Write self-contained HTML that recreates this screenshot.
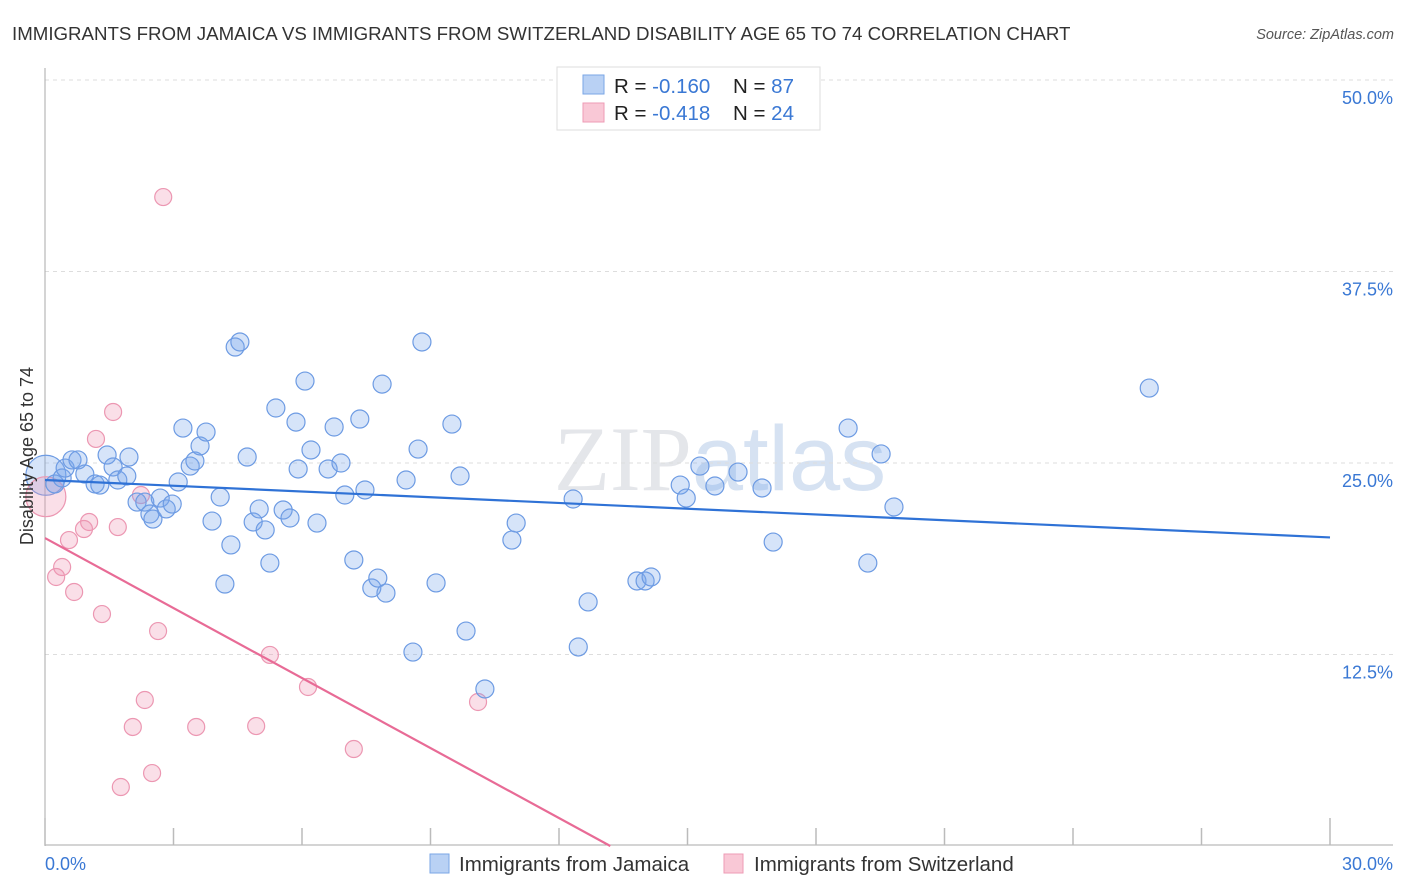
<!DOCTYPE html>
<html><head><meta charset="utf-8"><style>
body{margin:0;background:#fff;font-family:"Liberation Sans",sans-serif;}
svg{display:block}
</style></head><body>
<svg id="chart" width="1406" height="892" xmlns="http://www.w3.org/2000/svg">
<text x="12" y="40" font-size="18.7" fill="#333">IMMIGRANTS FROM JAMAICA VS IMMIGRANTS FROM SWITZERLAND DISABILITY AGE 65 TO 74 CORRELATION CHART</text>
<text x="1394" y="39" font-size="14.5" fill="#555" font-style="italic" text-anchor="end">Source: ZipAtlas.com</text>
<text x="720" y="490" font-size="92" fill="#e4e6ea" text-anchor="middle" font-family="Liberation Serif,serif">ZIP<tspan font-family="Liberation Sans,sans-serif" fill="#d6e2f2">atlas</tspan></text>
<g id="grid"></g>
<g id="axes"></g>
<g id="pts"></g>
<g id="lines"></g>
<text transform="translate(33,456) rotate(-90)" font-size="18" fill="#333" text-anchor="middle">Disability Age 65 to 74</text>
<g>
<rect x="557" y="67" width="263" height="63" fill="#fff" stroke="#ddd"/>
<rect x="583" y="75" width="21" height="19" fill="#b9d1f4" stroke="#7aa6e6"/>
<rect x="583" y="103" width="21" height="19" fill="#f9c8d6" stroke="#ee9bb5"/>
<text x="614" y="93" font-size="20.5" fill="#222">R = <tspan fill="#3a78d4">-0.160</tspan><tspan x="733">N = </tspan><tspan fill="#3a78d4">87</tspan></text>
<text x="614" y="120" font-size="20.5" fill="#222">R = <tspan fill="#3a78d4">-0.418</tspan><tspan x="733">N = </tspan><tspan fill="#3a78d4">24</tspan></text>
</g>
<g>
<rect x="430" y="854" width="19" height="19" fill="#b9d1f4" stroke="#7aa6e6"/>
<text x="459" y="871" font-size="20.5" fill="#333">Immigrants from Jamaica</text>
<rect x="724" y="854" width="19" height="19" fill="#f9c8d6" stroke="#ee9bb5"/>
<text x="754" y="871" font-size="20.5" fill="#333">Immigrants from Switzerland</text>
</g>
</svg>
<script>
const yTicks=[12.5,25,37.5,50];
const yTickLabels=["12.5%","25.0%","37.5%","50.0%"];
const xTicks=[0,3,6,9,12,15,18,21,24,27,30];
const xEndLabels=["0.0%","30.0%"];
const jamX=[0.23,0.40,0.47,0.63,0.77,0.93,1.17,1.28,1.45,1.59,1.70,1.91,1.96,2.15,2.33,2.45,2.52,2.69,2.83,2.97,3.11,3.22,3.39,3.50,3.62,3.76,3.90,4.09,4.20,4.34,4.44,4.55,4.72,4.86,5.00,5.14,5.25,5.39,5.56,5.72,5.86,5.91,6.07,6.21,6.35,6.61,6.75,6.91,7.00,7.21,7.35,7.47,7.63,7.77,7.87,7.96,8.43,8.59,8.71,8.80,9.13,9.50,9.69,9.83,10.27,10.90,11.00,12.33,12.45,12.68,13.82,14.01,14.15,14.83,14.97,15.29,15.64,16.18,16.74,17.00,18.75,19.21,19.52,19.82,25.78];
const jamY=[23.63,24.02,24.67,25.20,25.20,24.28,23.63,23.56,25.52,24.74,23.89,24.15,25.39,22.45,22.45,21.67,21.34,22.71,22.00,22.32,23.76,27.28,24.80,25.13,26.11,27.02,21.21,22.78,17.10,19.65,32.57,32.90,25.39,21.15,22.00,20.63,18.47,28.59,21.93,21.41,27.67,24.61,30.35,25.85,21.08,24.61,27.35,25.00,22.91,18.67,27.87,23.24,16.84,17.49,30.15,16.51,23.89,12.66,25.91,32.90,17.17,27.54,24.15,14.03,10.25,19.97,21.08,22.65,12.99,15.93,17.30,17.30,17.56,23.56,22.71,24.80,23.50,24.41,23.37,19.84,27.28,18.47,25.59,22.13,29.89];
const swiX=[2.76,1.59,1.19,2.24,1.03,0.91,1.70,0.56,0.40,0.26,0.68,1.33,2.64,5.25,6.14,2.33,2.05,3.53,4.93,10.11,7.21,2.50,1.77];
const swiY=[42.36,28.33,26.57,22.91,21.15,20.69,20.82,19.97,18.21,17.56,16.58,15.14,14.03,12.47,10.38,9.53,7.77,7.77,7.83,9.40,6.33,4.76,3.85];
const bigPoints=[[0.02,24.2,"jam"],[0.02,22.8,"swi"]];
const jamTrend=[23.89,-0.125];
const swiTrend=[20.1,-1.523];

const X0=45,X1=1330,Y0=846,Y50=80;
const sx=v=>X0+(X1-X0)*v/30;
const sy=v=>Y0-(Y0-Y50)*v/50;
const NS="http://www.w3.org/2000/svg";
function mk(tag,attrs,parent){const e=document.createElementNS(NS,tag);for(const k in attrs)e.setAttribute(k,attrs[k]);parent.appendChild(e);return e;}
const grid=document.getElementById('grid'),axes=document.getElementById('axes'),pts=document.getElementById('pts'),lines=document.getElementById('lines');
yTicks.forEach((t,i)=>{
 const l=mk('line',{x1:45,x2:1393,y1:sy(t),y2:sy(t),stroke:'#ddd','stroke-dasharray':'4 4'},grid);
 
 
 const tx=mk('text',{x:1393,y:sy(t)+24,'font-size':18,fill:'#3a78d4','text-anchor':'end'},axes);
 tx.textContent=yTickLabels[i];
 
 
});
const ya=mk('line',{x1:45,x2:45,y1:68,y2:846,stroke:'#aaa'},axes);


const xa=mk('line',{x1:45,x2:1393,y1:845,y2:845,stroke:'#aaa'},axes);


xTicks.forEach(t=>{
 const l=mk('line',{x1:sx(t),x2:sx(t),y1:(t===0||t===30)?818:828,y2:845,stroke:'#bbb','stroke-width':1.5},axes);
 
 
});
[[0,'start',45],[30,'end',1393]].forEach((d,i)=>{
 const tx=mk('text',{x:d[2],y:870,'font-size':18,fill:'#3a78d4','text-anchor':d[1]},axes);
 tx.textContent=xEndLabels[i];
 
 
});
function dot(x,y,r,kind){
 const c=mk('circle',{cx:sx(x),cy:sy(y),r:r,fill:kind==='jam'?'rgba(120,165,235,0.3)':'rgba(240,150,180,0.3)',stroke:kind==='jam'?'#6d9be3':'#ec97b2','stroke-width':1.2},pts);
 
 
}
bigPoints.forEach(p=>dot(p[0],p[1],20,p[2]));
swiX.forEach((x,i)=>dot(x,swiY[i],8.5,'swi'));
jamX.forEach((x,i)=>dot(x,jamY[i],9,'jam'));
const jl=mk('line',{x1:sx(0),y1:sy(jamTrend[0]),x2:sx(30),y2:sy(jamTrend[0]+jamTrend[1]*30),stroke:'#2f72d6','stroke-width':2.2},lines);


const xe=-swiTrend[0]/swiTrend[1];
const sl=mk('line',{x1:sx(0),y1:sy(swiTrend[0]),x2:sx(xe),y2:sy(0),stroke:'#e86b96','stroke-width':2.2},lines);


</script>
</body></html>
